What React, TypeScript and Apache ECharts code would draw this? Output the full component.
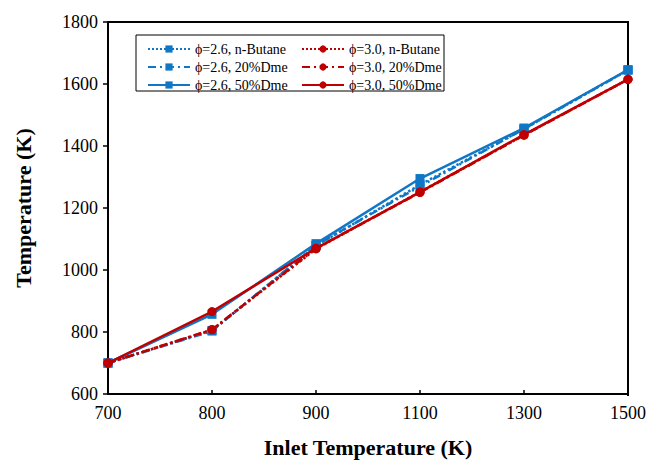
import React, { useEffect, useRef } from "react";
import * as echarts from "echarts";

const categories = ["700", "800", "900", "1100", "1300", "1500"];
const b26Butane = [700, 805, 1078, 1275, 1455, 1645];
const b26Dme20 = [700, 803, 1080, 1270, 1455, 1645];
const b26Dme50 = [700, 857, 1085, 1295, 1458, 1646];
const r30Butane = [700, 807, 1068, 1252, 1435, 1615];
const r30Dme20 = [700, 808, 1070, 1250, 1435, 1615];
const r30Dme50 = [700, 866, 1070, 1251, 1437, 1615];

const BLUE = "#0F77C6";
const RED = "#C00000";
const FONT = "Liberation Serif";

export default function App() {
  const ref = useRef<HTMLDivElement>(null);
  useEffect(() => {
    const chart = echarts.init(ref.current!, null, { renderer: "svg" });
    const mk = (name: string, data: number[], color: string, type: any, symbol: string) => ({
      name,
      type: "line",
      data,
      symbol,
      symbolSize: 9,
      itemStyle: { color },
      lineStyle: { color, width: 2.5, type },
      z: color === RED ? 3 : 2,
    });
    const legendCommon = {
      orient: "vertical",
      top: 37,
      itemWidth: 42,
      itemHeight: 9,
      itemGap: 4,
      textStyle: { fontFamily: FONT, fontSize: 14, color: "#000" },
    };
    chart.setOption({
      animation: false,
      grid: { left: 108, right: 28, top: 22, bottom: 67 },
      xAxis: {
        type: "category",
        data: categories,
        boundaryGap: false,
        name: "Inlet Temperature (K)",
        nameLocation: "middle",
        nameGap: 42,
        nameTextStyle: { fontFamily: FONT, fontWeight: "bold", fontSize: 22, color: "#000" },
        axisLine: { lineStyle: { color: "#000", width: 2 } },
        axisTick: { inside: true, length: 4, lineStyle: { color: "#000", width: 1.5 } },
        axisLabel: { fontFamily: FONT, fontSize: 18, color: "#000", margin: 10 },
        splitLine: { show: false },
      },
      yAxis: {
        type: "value",
        min: 600,
        max: 1800,
        interval: 200,
        name: "Temperature (K)",
        nameLocation: "middle",
        nameGap: 74,
        nameTextStyle: { fontFamily: FONT, fontWeight: "bold", fontSize: 22, color: "#000" },
        axisLine: { show: true, lineStyle: { color: "#000", width: 2 } },
        axisTick: { show: true, inside: false, length: 5, lineStyle: { color: "#000", width: 1.5 } },
        axisLabel: { fontFamily: FONT, fontSize: 18, color: "#000", margin: 10, formatter: (v: number) => String(v) },
        splitLine: { show: false },
      },
      legend: [
        { ...legendCommon, left: 142, data: ["ϕ=2.6, n-Butane", "ϕ=2.6, 20%Dme", "ϕ=2.6, 50%Dme"] },
        { ...legendCommon, left: 296, data: ["ϕ=3.0, n-Butane", "ϕ=3.0, 20%Dme", "ϕ=3.0, 50%Dme"] },
      ],
      graphic: [
        {
          type: "rect",
          shape: { x: 136, y: 35, width: 308, height: 56 },
          style: { fill: "none", stroke: "#000", lineWidth: 1 },
          z: 0,
        },
        {
          type: "polyline",
          shape: { points: [[108, 22], [628, 22], [628, 396]] },
          style: { fill: "none", stroke: "#000", lineWidth: 2 },
        },
      ],
      series: [
        mk("ϕ=2.6, n-Butane", b26Butane, BLUE, "dotted", "rect"),
        mk("ϕ=2.6, 20%Dme", b26Dme20, BLUE, [8, 4, 2, 4], "rect"),
        mk("ϕ=2.6, 50%Dme", b26Dme50, BLUE, "solid", "rect"),
        mk("ϕ=3.0, n-Butane", r30Butane, RED, "dotted", "circle"),
        mk("ϕ=3.0, 20%Dme", r30Dme20, RED, [8, 4, 2, 4], "circle"),
        mk("ϕ=3.0, 50%Dme", r30Dme50, RED, "solid", "circle"),
      ],
    });
    return () => chart.dispose();
  }, []);
  return <div ref={ref} style={{ width: 656, height: 463, position: "absolute", left: 0, top: 0, background: "#fff" }} />;
}
